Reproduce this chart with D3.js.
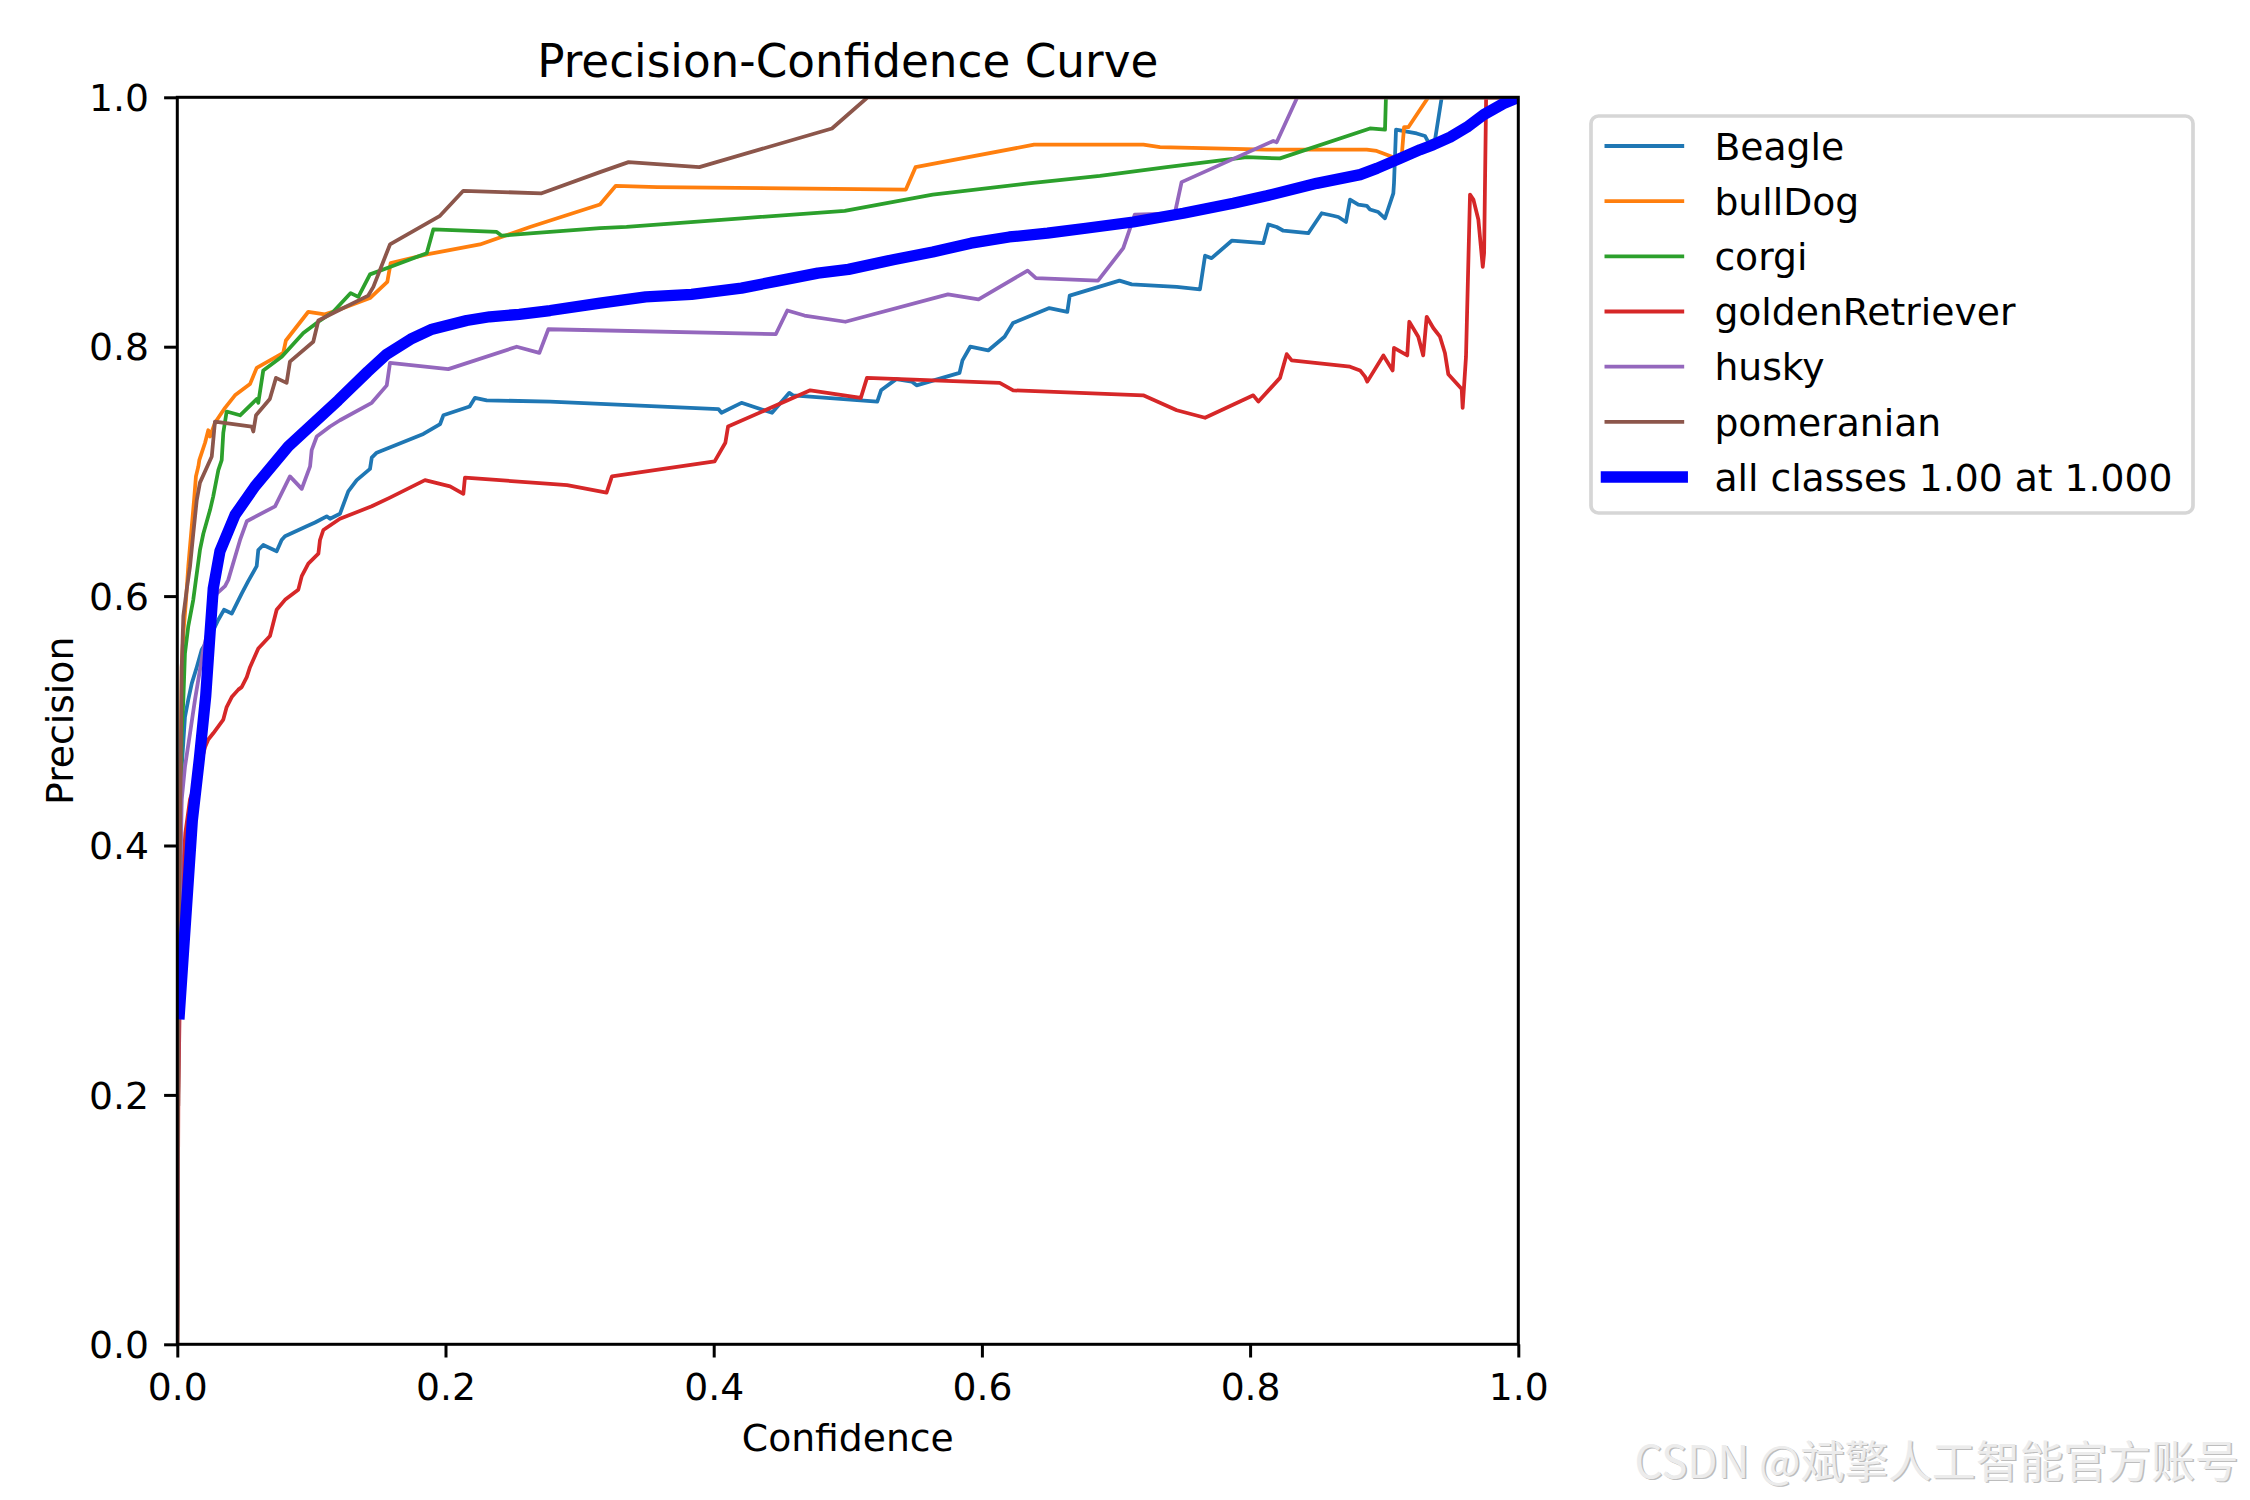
<!DOCTYPE html>
<html>
<head>
<meta charset="utf-8">
<script src="https://cdn.jsdelivr.net/npm/d3@7"></script>
<style>
  html, body { margin: 0; padding: 0; background: #fff; }
  svg { display: block; }
</style>
</head>
<body>
<div id="contents"></div>
<script>
// values: [confidence, precision]
const classNames = ["Beagle", "bullDog", "corgi", "goldenRetriever", "husky", "pomeranian"];
const classColors = ["#1f77b4", "#ff7f0e", "#2ca02c", "#d62728", "#9467bd", "#8c564b"];
const allLabel = "all classes 1.00 at 1.000";
const xTicks = [0, 0.2, 0.4, 0.6, 0.8, 1.0];
const yTicks = [0, 0.2, 0.4, 0.6, 0.8, 1.0];

const beagle = [[0,0],[0.001,0.3],[0.0033,0.463],[0.0057,0.503],[0.0082,0.517],[0.0108,0.530],[0.0145,0.543],[0.0182,0.557],
  [0.0257,0.570],[0.0306,0.581],[0.0348,0.589],[0.0406,0.586],[0.0443,0.594],[0.048,0.602],[0.0529,0.612],[0.0592,0.624],
  [0.0604,0.637],[0.0641,0.641],[0.0741,0.636],[0.0778,0.645],[0.0803,0.648],[0.0965,0.656],[0.1027,0.659],[0.1114,0.664],
  [0.1139,0.662],[0.1213,0.666],[0.1275,0.684],[0.1338,0.693],[0.1437,0.702],[0.145,0.711],[0.1487,0.715],[0.151,0.716],
  [0.1835,0.730],[0.196,0.738],[0.1984,0.745],[0.218,0.752],[0.222,0.759],[0.2307,0.757],[0.278,0.756],[0.4035,0.750],
  [0.4058,0.747],[0.4207,0.755],[0.4435,0.747],[0.4564,0.763],[0.4591,0.761],[0.522,0.756],[0.5248,0.765],[0.5361,0.774],
  [0.5476,0.772],[0.5513,0.769],[0.5833,0.779],[0.5855,0.789],[0.5913,0.800],[0.6047,0.797],[0.6169,0.808],[0.6232,0.819],
  [0.6503,0.831],[0.6637,0.828],[0.6655,0.841],[0.7026,0.853],[0.7117,0.850],[0.7453,0.848],[0.7626,0.846],[0.7664,0.873],
  [0.7713,0.871],[0.7863,0.885],[0.8099,0.883],[0.8136,0.898],[0.8198,0.896],[0.8248,0.893],[0.8434,0.891],[0.8534,0.907],
  [0.862,0.905],[0.8658,0.904],[0.8715,0.900],[0.8745,0.918],[0.8807,0.914],[0.887,0.913],[0.8894,0.910],[0.8956,0.908],
  [0.9006,0.903],[0.9068,0.923],[0.9073,0.931],[0.9088,0.974],[0.9242,0.971],[0.9304,0.969],[0.9329,0.964],[0.9379,0.966],
  [0.9429,1.0],[1,1]];

const bullDog = [[0,0],[0.001,0.3],[0.0033,0.543],[0.0045,0.570],[0.0065,0.597],[0.0082,0.624],[0.0108,0.656],[0.0125,0.677],
  [0.0139,0.696],[0.0157,0.704],[0.0164,0.709],[0.0207,0.723],[0.0231,0.733],[0.0244,0.728],[0.0281,0.739],[0.0356,0.751],
  [0.043,0.761],[0.0542,0.770],[0.0592,0.783],[0.0691,0.789],[0.079,0.795],[0.081,0.805],[0.0977,0.828],[0.110,0.826],
  [0.1189,0.829],[0.1437,0.839],[0.1566,0.852],[0.1591,0.867],[0.186,0.874],[0.2257,0.882],[0.263,0.896],[0.3152,0.914],
  [0.327,0.929],[0.3579,0.928],[0.5433,0.926],[0.5505,0.944],[0.6389,0.962],[0.7204,0.962],[0.7328,0.960],[0.8124,0.958],
  [0.887,0.958],[0.8944,0.957],[0.8994,0.955],[0.9068,0.952],[0.913,0.952],[0.9148,0.976],[0.918,0.976],[0.9329,1.0],[1,1]];

const corgi = [[0,0],[0.001,0.3],[0.0033,0.490],[0.0045,0.517],[0.0057,0.554],[0.0082,0.576],[0.0119,0.597],[0.0145,0.618],
  [0.0169,0.637],[0.0194,0.650],[0.0244,0.669],[0.0268,0.680],[0.0306,0.701],[0.0331,0.709],[0.0343,0.731],[0.0368,0.748],
  [0.0468,0.745],[0.0592,0.758],[0.0604,0.755],[0.0641,0.781],[0.0779,0.792],[0.094,0.811],[0.1052,0.820],[0.1163,0.828],
  [0.1293,0.843],[0.135,0.840],[0.1437,0.858],[0.1586,0.864],[0.1735,0.870],[0.186,0.875],[0.1909,0.894],[0.2382,0.892],
  [0.2419,0.889],[0.2655,0.891],[0.3152,0.895],[0.335,0.896],[0.4207,0.903],[0.4977,0.909],[0.5633,0.922],[0.6347,0.931],
  [0.688,0.937],[0.7378,0.944],[0.7975,0.952],[0.8223,0.951],[0.8894,0.975],[0.9006,0.974],[0.9013,1.0],[1,1]];

const goldenRetriever = [[0,0],[0.0008,0.2],[0.003,0.36],[0.006,0.41],[0.0095,0.437],[0.0119,0.445],[0.0169,0.463],
  [0.0207,0.479],[0.0231,0.485],[0.0268,0.490],[0.0343,0.501],[0.0368,0.511],[0.0406,0.519],[0.0455,0.525],[0.048,0.527],
  [0.0518,0.535],[0.0542,0.543],[0.0604,0.558],[0.0691,0.568],[0.0741,0.589],[0.0803,0.597],[0.0902,0.605],[0.0928,0.616],
  [0.0977,0.626],[0.1052,0.634],[0.1064,0.645],[0.1089,0.653],[0.1213,0.662],[0.145,0.672],[0.1586,0.679],[0.1847,0.693],
  [0.2034,0.688],[0.2133,0.682],[0.2145,0.695],[0.278,0.690],[0.2907,0.689],[0.3201,0.683],[0.3241,0.696],[0.4007,0.708],
  [0.4087,0.723],[0.4107,0.736],[0.472,0.765],[0.5097,0.759],[0.5143,0.775],[0.6133,0.771],[0.6233,0.765],[0.7203,0.761],
  [0.7453,0.749],[0.7664,0.743],[0.8024,0.761],[0.8062,0.756],[0.8223,0.775],[0.8273,0.794],[0.831,0.789],[0.8745,0.784],
  [0.882,0.781],[0.8857,0.776],[0.8874,0.772],[0.8994,0.793],[0.9063,0.781],[0.9073,0.799],[0.9172,0.793],[0.9187,0.820],
  [0.9254,0.808],[0.9291,0.793],[0.9317,0.824],[0.9366,0.815],[0.9416,0.808],[0.9453,0.795],[0.9478,0.778],[0.9578,0.766],
  [0.9585,0.751],[0.961,0.792],[0.964,0.922],[0.9665,0.918],[0.9702,0.902],[0.9735,0.864],[0.9745,0.875],[0.976,1.0],[1,1]];

const husky = [[0,0],[0.001,0.3],[0.0033,0.437],[0.0057,0.463],[0.0095,0.490],[0.0132,0.517],[0.0194,0.557],[0.0294,0.602],
  [0.0356,0.608],[0.038,0.613],[0.0468,0.645],[0.0518,0.660],[0.0729,0.672],[0.0803,0.688],[0.084,0.696],[0.0902,0.689],
  [0.0928,0.686],[0.0952,0.693],[0.099,0.704],[0.1002,0.717],[0.104,0.728],[0.1139,0.736],[0.1213,0.741],[0.145,0.755],
  [0.1562,0.769],[0.1586,0.787],[0.2021,0.782],[0.2531,0.800],[0.27,0.795],[0.2767,0.814],[0.4463,0.810],[0.4549,0.829],
  [0.4677,0.825],[0.4982,0.820],[0.5747,0.842],[0.5975,0.838],[0.6341,0.861],[0.6403,0.855],[0.6866,0.853],[0.7054,0.879],
  [0.714,0.906],[0.7439,0.907],[0.7489,0.932],[0.8173,0.965],[0.8198,0.964],[0.8352,1.0],[1,1]];

const pomeranian = [[0,0],[0.001,0.3],[0.0033,0.543],[0.0045,0.584],[0.007,0.605],[0.0095,0.624],[0.0119,0.650],[0.0145,0.677],
  [0.0169,0.691],[0.0257,0.712],[0.0281,0.740],[0.0555,0.736],[0.0567,0.732],[0.0587,0.745],[0.069,0.758],[0.0736,0.775],
  [0.0815,0.771],[0.084,0.788],[0.1014,0.804],[0.1052,0.821],[0.1163,0.827],[0.1424,0.841],[0.1462,0.848],[0.1586,0.882],
  [0.1959,0.905],[0.2133,0.925],[0.2717,0.923],[0.3152,0.940],[0.3365,0.948],[0.3893,0.944],[0.4882,0.975],[0.5148,1.0],[1,1]];

const allClasses = [[0.0015,0.265],[0.0112,0.420],[0.0165,0.470],[0.0212,0.520],[0.0244,0.570],[0.0268,0.606],[0.0318,0.636],
  [0.043,0.665],[0.0579,0.688],[0.0828,0.720],[0.12,0.757],[0.142,0.780],[0.1562,0.794],[0.174,0.806],[0.19,0.814],
  [0.2158,0.821],[0.233,0.824],[0.255,0.826],[0.278,0.829],[0.3152,0.835],[0.3493,0.840],[0.3835,0.842],[0.4207,0.847],
  [0.4491,0.853],[0.4777,0.859],[0.5005,0.862],[0.5347,0.870],[0.5633,0.876],[0.5919,0.883],[0.6204,0.888],[0.6489,0.891],
  [0.6775,0.895],[0.7129,0.900],[0.7502,0.907],[0.7875,0.915],[0.8124,0.921],[0.8497,0.931],[0.8821,0.938],[0.8945,0.943],
  [0.9119,0.951],[0.9268,0.958],[0.9367,0.962],[0.9492,0.968],[0.9617,0.976],[0.9741,0.986],[0.989,0.995],[1.0,1.0]];

const classSeries = [beagle, bullDog, corgi, goldenRetriever, husky, pomeranian];

const W = 2250, H = 1500;
const margin = {top: 97.3, right: 731.7, bottom: 155.7, left: 177.3},
    width = W - margin.left - margin.right,
    height = H - margin.top - margin.bottom;
const fontSize = 37.7, titleSize = 45.3;
const thin = 3.77, thick = 11.3;

function createPlot() {
    var x = d3.scaleLinear().domain([0, 1]).range([0, width]);
    var y = d3.scaleLinear().domain([0, 1]).range([height, 0]);
    var line = d3.line()
        .x(d => x(d[0]))
        .y(d => y(d[1]));
    return {x: x, y: y, line: line};
}

function createSvg() {
    var svg = d3.select("#contents").append("svg")
        .attr("width", W)
        .attr("height", H)
        .attr("font-family", "DejaVu Sans, sans-serif");
    svg.append("rect").attr("width", W).attr("height", H).attr("fill", "#fff");
    var g = svg.append("g")
        .attr("transform", "translate(" + margin.left + "," + margin.top + ")");
    g.append("clipPath").attr("id", "clip")
      .append("rect").attr("width", width).attr("height", height);
    return {svg: svg, g: g};
}

function drawLines(plot, g) {
    var lines = g.append("g").attr("clip-path", "url(#clip)");
    classSeries.forEach(function(s, i) {
        lines.append("path").datum(s)
            .attr("d", plot.line)
            .attr("fill", "none")
            .attr("stroke", classColors[i])
            .attr("stroke-width", thin)
            .attr("stroke-linejoin", "round")
            .attr("stroke-linecap", "square");
    });
    lines.append("path").datum(allClasses)
        .attr("d", plot.line)
        .attr("fill", "none")
        .attr("stroke", "#0000ff")
        .attr("stroke-width", thick)
        .attr("stroke-linejoin", "round")
        .attr("stroke-linecap", "square");
}

function drawAxes(plot, svg, g) {
    var fmt = d3.format(".1f");
    var xAxis = d3.axisBottom(plot.x).tickValues(xTicks).tickFormat(fmt)
        .tickSizeInner(13.2).tickSizeOuter(0).tickPadding(15.7);
    var yAxis = d3.axisLeft(plot.y).tickValues(yTicks).tickFormat(fmt)
        .tickSizeInner(13.2).tickSizeOuter(0).tickPadding(15.1);

    g.append("g").attr("transform", "translate(0," + height + ")").call(xAxis)
        .attr("font-size", fontSize).attr("font-family", "DejaVu Sans, sans-serif")
        .call(a => a.select(".domain").remove())
        .call(a => a.selectAll("line").attr("stroke", "#000").attr("stroke-width", 3))
        .call(a => a.selectAll("text").attr("fill", "#000"));

    g.append("g").call(yAxis)
        .attr("font-size", fontSize).attr("font-family", "DejaVu Sans, sans-serif")
        .call(a => a.select(".domain").remove())
        .call(a => a.selectAll("line").attr("stroke", "#000").attr("stroke-width", 3))
        .call(a => a.selectAll("text").attr("fill", "#000").attr("dy", "0.35em"));

    // spines
    g.append("rect")
        .attr("width", width).attr("height", height)
        .attr("fill", "none").attr("stroke", "#000").attr("stroke-width", 3);

    svg.append("text")
        .attr("x", margin.left + width / 2).attr("y", 77)
        .attr("text-anchor", "middle").attr("font-size", titleSize)
        .text("Precision-Confidence Curve");

    svg.append("text")
        .attr("x", margin.left + width / 2).attr("y", 1451)
        .attr("text-anchor", "middle").attr("font-size", fontSize)
        .text("Confidence");

    svg.append("text")
        .attr("transform", "translate(73," + (margin.top + height / 2) + ") rotate(-90)")
        .attr("text-anchor", "middle").attr("font-size", fontSize)
        .text("Precision");
}

function drawLegend(svg) {
    var lg = svg.append("g");
    lg.append("rect")
        .attr("x", 1591).attr("y", 116).attr("width", 602).attr("height", 397)
        .attr("rx", 7.5).attr("ry", 7.5)
        .attr("fill", "#fff").attr("fill-opacity", 0.8)
        .attr("stroke", "#d6d6d6").attr("stroke-width", 3.7);

    var labels = classNames.concat([allLabel]);
    var colors = classColors.concat(["#0000ff"]);
    var rowY = d3.scaleLinear().domain([0, labels.length - 1]).range([146, 477]);

    labels.forEach(function(name, i) {
        var yy = rowY(i);
        lg.append("line")
            .attr("x1", 1606.4).attr("x2", 1682.3).attr("y1", yy).attr("y2", yy)
            .attr("stroke", colors[i])
            .attr("stroke-width", i === labels.length - 1 ? thick : thin)
            .attr("stroke-linecap", "square");
        lg.append("text")
            .attr("x", 1714.4).attr("y", yy + 13.8)
            .attr("font-size", fontSize)
            .text(name);
    });
}

function drawWatermark(svg) {
    var wm = "CSDN @斌擎人工智能官方账号";
    svg.append("text")
        .attr("x", 1636).attr("y", 1479)
        .attr("font-family", "Noto Sans CJK SC, sans-serif")
        .attr("font-size", 44.5)
        .attr("textLength", 604).attr("lengthAdjust", "spacingAndGlyphs")
        .attr("fill", "#bdbdbd")
        .text(wm);
    svg.append("text")
        .attr("x", 1634.5).attr("y", 1477.5)
        .attr("font-family", "Noto Sans CJK SC, sans-serif")
        .attr("font-size", 44.5)
        .attr("textLength", 604).attr("lengthAdjust", "spacingAndGlyphs")
        .attr("fill", "#ececec")
        .text(wm);
}

const plot = createPlot();
const canvas = createSvg();
drawLines(plot, canvas.g);
drawAxes(plot, canvas.svg, canvas.g);
drawLegend(canvas.svg);
drawWatermark(canvas.svg);
</script>
</body>
</html>
